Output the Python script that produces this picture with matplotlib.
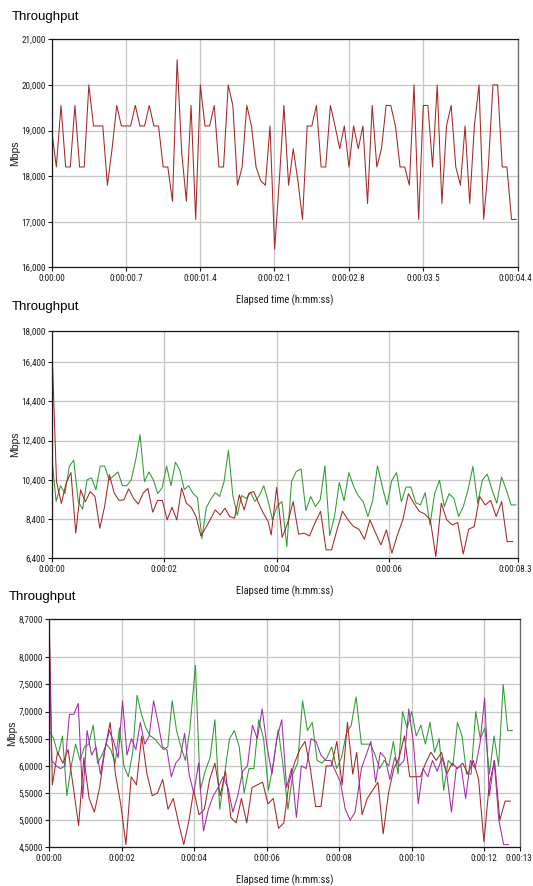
import numpy as np
import matplotlib
matplotlib.use("Agg")
import matplotlib.pyplot as plt
import matplotlib.transforms as mtransforms
from matplotlib import font_manager

# ---------------- DATA ----------------
# Top chart: one series (Mbps)
TOP_RED = [
    19000, 18200, 19550, 18200, 18200, 19550, 18200, 18200, 20000, 19100,
    19100, 19100, 17800, 18600, 19550, 19100, 19100, 19100, 19550, 19100,
    19100, 19550, 19100, 19100, 18200, 18200, 17450, 20550, 18500, 17450,
    19550, 17050, 20000, 19100, 19100, 19550, 18200, 18200, 20000, 19550,
    17800, 18200, 19550, 19100, 18200, 17900, 17800, 19100,
    16400, 17900, 19550, 17800, 18600, 17900, 17050, 19100, 19100, 19550,
    18200, 18200, 19550, 19100, 18600, 19100, 18200, 19100, 18600, 19100,
    17400, 19550, 18200, 18600, 19550, 19550, 19100, 18200, 18200, 17800,
    20000, 17050, 19550, 19550, 18200, 20000, 17400, 19100, 19550, 18200,
    17800, 19100, 17400, 19100, 20000, 17050, 18200, 20000, 20000, 18200,
    18200, 17050, 17050,
]
TOP_T_IDX = [0, len(TOP_RED) - 1]
TOP_T_SEC = [0.0, 4.38]

# Middle chart: two series (Mbps)
MID_GREEN = [
    11600, 9300, 10100, 9700, 11100, 11400, 9300, 8900, 10400, 10500,
    9900, 11100, 11100, 10400, 10600, 10800, 10100, 10100, 10400, 11400,
    12700, 10300, 10800, 10400, 9700, 10000, 11100, 10100, 11300, 10900,
    9900, 10100, 9700, 9500, 7400, 9000, 9400, 9750, 9550, 10300,
    11900, 9600, 8600, 9600, 9450, 9750, 9300, 9600, 10100, 9300,
    8360, 9070, 9290, 7000, 10320, 10830, 10950, 8830, 9550, 9040,
    9380, 11110, 7560, 8530, 10260, 9330, 10770, 10060, 9580, 9290,
    8530, 9350, 11110, 10060, 9120, 10370, 10770, 9290, 10030, 10030,
    9240, 9120, 9750, 8100, 9720, 10370, 9040, 9690, 9460, 8530,
    9040, 9920, 11080, 9210, 10400, 10690, 9890, 9210, 10540, 9890,
    9120, 9120,
]
MID_GREEN_T_IDX = [0, 49, 50, 101]
MID_GREEN_T_SEC = [0.0, 3.851, 3.927, 8.257]

MID_RED = [
    17500, 10300, 9200, 10230, 10770, 7680, 9890, 9280, 9800, 9550,
    7930, 9040, 10660, 9720, 9350, 9380, 9940, 9460, 9160, 9720,
    9960, 8750, 9350, 9350, 8360, 9000, 8360, 9980, 9210, 9000,
    8530, 7540, 7950, 8390, 8870, 8610, 8950, 8530, 8440, 9630,
    8870, 9720, 9800, 9210, 8700, 8270,
    7590, 10010, 7470, 8190, 9290, 7630, 7680, 7540, 8220, 8790,
    6830, 6830, 7850, 8800, 8360, 8020, 7880, 7370, 8360, 7710,
    7080, 7850, 6660, 7590, 8360, 9690, 9210, 8790, 8660, 8360,
    6490, 9210, 8360, 8100, 8220, 6620, 7880, 8020, 9550, 9120,
    9350, 8530, 9290, 7250, 7250,
]
MID_RED_T_IDX = [0, 45, 46, 90]
MID_RED_T_SEC = [0.0, 3.851, 3.904, 8.199]

# Bottom chart: three series
BOT_GREEN = [
    6.65, 6.5, 6.2, 6.55, 5.45, 6.0, 6.4, 6.1, 6.35, 6.4,
    6.75, 6.05, 6.2, 6.4, 6.3, 6.05, 6.7, 6.0, 5.8, 6.25,
    7.3, 6.95, 6.7, 6.55, 6.5, 6.4, 6.3, 6.35, 7.2, 6.65,
    6.35, 6.1, 6.65,
    7.85, 5.55, 5.9, 6.15, 6.85, 5.2, 5.85, 6.5, 6.65, 6.35,
    5.5, 5.95, 5.95, 6.85, 6.5, 5.55, 6.05, 6.67, 6.0, 5.2,
    5.85, 6.05, 7.2, 6.65, 6.8, 6.1, 6.05, 6.15, 6.35, 5.95,
    6.15, 6.6, 6.75, 7.27,
    6.4, 6.4, 6.4, 6.2, 5.95, 6.1, 6.0, 6.45, 5.85, 7.0,
    6.7, 7.0, 6.55, 6.75, 6.4, 6.8, 6.25, 6.5, 5.55, 6.1,
    6.0, 6.8, 6.55, 5.85, 5.85, 7.0, 6.5, 6.7, 5.85, 6.55,
    6.0, 7.5, 6.65, 6.65,
]
BOT_GREEN_T_IDX = [0, 32, 33, 66, 67, 100]
BOT_GREEN_T_SEC = [0.0, 3.876, 4.033, 8.468, 8.614, 12.78]

BOT_RED = [
    8.65, 7.2, 5.65, 6.25, 6.05, 6.3, 5.6, 4.9, 6.15, 5.4,
    5.15, 5.6, 6.3, 6.8, 5.85, 5.3, 4.55, 5.8, 5.65, 6.55,
    5.85, 5.45, 5.5, 5.75, 5.2, 5.4, 4.95, 4.55, 5.0,
    5.55, 5.1, 5.2, 5.75, 6.05, 5.45, 5.9, 5.05, 4.95, 5.4,
    4.95, 5.6, 5.65, 5.7, 5.3, 5.4, 4.85, 4.95, 5.7, 6.05,
    6.3, 6.45, 5.95, 5.25, 5.25, 6.0, 6.0, 6.45, 5.65, 6.8,
    5.85,
    6.25, 5.1, 5.4, 5.55, 5.7, 4.75, 5.5, 5.95, 6.15, 6.55,
    5.8, 5.8, 5.8, 6.05, 6.25, 6.1, 6.25, 5.85, 6.05, 5.95,
    6.05, 5.85, 6.1, 5.75, 4.6, 5.65, 6.1, 5.0, 5.35, 5.35,
]
BOT_RED_T_IDX = [0, 2, 28, 29, 59, 60, 89]
BOT_RED_T_SEC = [0.0, 0.083, 3.857, 3.986, 8.375, 8.485, 12.727]

BOT_PURPLE = [
    8.25, 6.1, 6.0, 5.95, 6.0, 6.95, 6.95, 7.15, 5.4, 6.65,
    6.2, 6.35, 5.85, 6.3, 6.65, 6.45, 6.15, 7.2, 6.2, 6.5,
    6.3, 6.8, 6.4, 6.55, 7.2, 6.8, 6.35, 6.3, 5.8, 6.05,
    6.15, 6.6, 5.85,
    5.5, 6.05, 4.8, 5.2, 5.45, 5.6, 5.8, 5.6, 5.15, 5.45,
    5.9, 6.0, 6.75, 6.5, 7.05, 6.35, 5.85, 6.5, 6.85, 5.6,
    5.95, 5.05, 6.0, 5.95, 6.5, 6.45, 6.2, 6.1, 6.1, 5.9,
    5.7, 5.2, 5.0, 5.15,
    5.95, 6.2, 6.45, 5.7, 6.25, 6.15, 5.75, 6.15, 6.0, 6.1,
    7.05, 6.4, 5.3, 5.95, 5.8, 6.1, 5.9, 6.15, 5.85, 5.15,
    5.95, 6.0, 5.4, 6.1, 5.95, 6.4, 7.25, 5.45, 6.1, 5.0,
    4.55, 4.55,
]
BOT_PURPLE_T_IDX = [0, 1, 32, 33, 66, 67, 98]
BOT_PURPLE_T_SEC = [0.0, 0.065, 3.857, 3.986, 8.44, 8.614, 12.67]

# Axis ticks / labels
TOP_XTICKS = [0, 0.7, 1.4, 2.1, 2.8, 3.5, 4.4]
TOP_XLABELS = ["0:00:00", "0:00:00.7", "0:00:01.4", "0:00:02.1", "0:00:02.8", "0:00:03.5", "0:00:04.4"]
TOP_YTICKS = [16000, 17000, 18000, 19000, 20000, 21000]
TOP_YLABELS = ["16,000", "17,000", "18,000", "19,000", "20,000", "21,000"]

MID_XTICKS = [0, 2, 4, 6, 8.3]
MID_XLABELS = ["0:00:00", "0:00:02", "0:00:04", "0:00:06", "0:00:08.3"]
MID_YTICKS = [6400, 8400, 10400, 12400, 14400, 16400, 18000]
MID_YLABELS = ["6,400", "8,400", "10,400", "12,400", "14,400", "16,400", "18,000"]

BOT_XTICKS = [0, 2, 4, 6, 8, 10, 12, 13]
BOT_XLABELS = ["0:00:00", "0:00:02", "0:00:04", "0:00:06", "0:00:08", "0:00:10", "0:00:12", "0:00:13"]
BOT_YTICKS = [4.5, 5.0, 5.5, 6.0, 6.5, 7.0, 7.5, 8.0, 8.7]
BOT_YLABELS = ["4,5000", "5,0000", "5,5000", "6,0000", "6,5000", "7,0000", "7,5000", "8,0000", "8,7000"]

TITLE = "Throughput"
XLABEL = "Elapsed time (h:mm:ss)"
YLABEL = "Mbps"

RED = "#a52626"
GREEN = "#2f9a2f"
PURPLE = "#a42aa8"

# ---------------- FONTS ----------------
REGULAR = ["Liberation Sans", "DejaVu Sans"]
plt.rcParams["font.family"] = REGULAR


def find_condensed():
    want = ("condensed", "semi-condensed", "extra-condensed")
    prefs = ["Liberation Sans Narrow", "Roboto Condensed", "Open Sans Condensed",
             "Noto Sans", "DejaVu Sans", "Open Sans", "Roboto"]
    for name in prefs:
        for f in font_manager.fontManager.ttflist:
            if f.name != name or f.style != "normal":
                continue
            w = f.weight
            if isinstance(w, str):
                ok_w = w in ("normal", "regular", "book", "400")
            else:
                ok_w = int(w) == 400
            narrow = name.endswith("Narrow") or name.endswith("Condensed") or \
                str(f.stretch) in want or (isinstance(f.stretch, (int, float)) and f.stretch < 500)
            if ok_w and narrow:
                return f.fname
    return None


cond = find_condensed()
if cond:
    TICK_FP = font_manager.FontProperties(fname=cond, size=6.6)
    XLAB_FP = font_manager.FontProperties(fname=cond, size=7.6)
else:
    TICK_FP = font_manager.FontProperties(family=REGULAR, size=6.0)
    XLAB_FP = font_manager.FontProperties(family=REGULAR, size=6.8)

W, H = 533, 886
fig = plt.figure(figsize=(W / 100, H / 100), dpi=100)


def times(idx, sec, n):
    return np.interp(np.arange(n), idx, sec)


def make_axes(left, top, right, bottom):
    return fig.add_axes([left / W, 1 - bottom / H, (right - left) / W, (bottom - top) / H])


def style(ax, xlim, xt, xl, ylim, yt, yl):
    ax.set_xlim(*xlim)
    ax.set_ylim(*ylim)
    ax.set_xticks(xt)
    ax.set_xticklabels(xl, fontproperties=TICK_FP)
    ax.set_yticks(yt)
    ax.set_yticklabels(yl, fontproperties=TICK_FP)
    ax.grid(True, color="#c6c6c6", lw=0.9)
    ax.set_axisbelow(True)
    ax.tick_params(direction="out", length=3, width=0.8, pad=1.5, colors="#1a1a1a")
    for s in ["left", "bottom", "top"]:
        ax.spines[s].set_color("#1a1a1a")
        ax.spines[s].set_linewidth(0.9)
    ax.spines["right"].set_color("#666666")
    ax.spines["right"].set_linewidth(0.9)


panels = [
    dict(box=(51.7, 39.3, 518.3, 267.3), title_xy=(11.7, 17.3), xlab_y=300, ylab_x=15,
         xlim=(0, 4.4), xt=TOP_XTICKS, xl=TOP_XLABELS,
         ylim=(16000, 21000), yt=TOP_YTICKS, yl=TOP_YLABELS,
         series=[(TOP_RED, TOP_T_IDX, TOP_T_SEC, RED)]),
    dict(box=(51.7, 330.7, 518.3, 558.3), title_xy=(11.7, 307), xlab_y=591, ylab_x=15,
         xlim=(0, 8.3), xt=MID_XTICKS, xl=MID_XLABELS,
         ylim=(6400, 18000), yt=MID_YTICKS, yl=MID_YLABELS,
         series=[(MID_GREEN, MID_GREEN_T_IDX, MID_GREEN_T_SEC, GREEN),
                 (MID_RED, MID_RED_T_IDX, MID_RED_T_SEC, RED)]),
    dict(box=(49.3, 619.3, 520.3, 847.3), title_xy=(8.3, 597), xlab_y=880, ylab_x=12.3,
         xlim=(0, 13), xt=BOT_XTICKS, xl=BOT_XLABELS,
         ylim=(4.5, 8.7), yt=BOT_YTICKS, yl=BOT_YLABELS,
         series=[(BOT_GREEN, BOT_GREEN_T_IDX, BOT_GREEN_T_SEC, GREEN),
                 (BOT_RED, BOT_RED_T_IDX, BOT_RED_T_SEC, RED),
                 (BOT_PURPLE, BOT_PURPLE_T_IDX, BOT_PURPLE_T_SEC, PURPLE)]),
]

axes = []
for p in panels:
    l, t, r, b = p["box"]
    ax = make_axes(l, t, r, b)
    for vals, idx, sec, col in p["series"]:
        x = times(idx, sec, len(vals))
        ax.plot(x, vals, color=col, lw=0.75, clip_on=True)
    style(ax, p["xlim"], p["xt"], p["xl"], p["ylim"], p["yt"], p["yl"])
    axes.append(ax)
    tx, ty = p["title_xy"]
    fig.text(tx / W, 1 - ty / H, TITLE, fontsize=9.5,
             ha="left", va="center", color="#000000")
    fig.text(((l + r) / 2) / W, 1 - p["xlab_y"] / H, XLABEL, fontproperties=XLAB_FP,
             ha="center", va="center", color="#1a1a1a")
    fig.text(p["ylab_x"] / W, 1 - ((t + b) / 2) / H, YLABEL,
             fontsize=7.5, rotation=90, ha="center", va="center", color="#1a1a1a")

# keep the last x tick label inside the figure
fig.canvas.draw()
renderer = fig.canvas.get_renderer()
for ax in axes:
    lab = ax.get_xticklabels()[-1]
    bb = lab.get_window_extent(renderer)
    over = bb.x1 - (W - 1)
    if over > 0:
        off = mtransforms.ScaledTranslation(-over / 100.0, 0, fig.dpi_scale_trans)
        lab.set_transform(lab.get_transform() + off)

fig.savefig("out.png", dpi=100, facecolor="white")
